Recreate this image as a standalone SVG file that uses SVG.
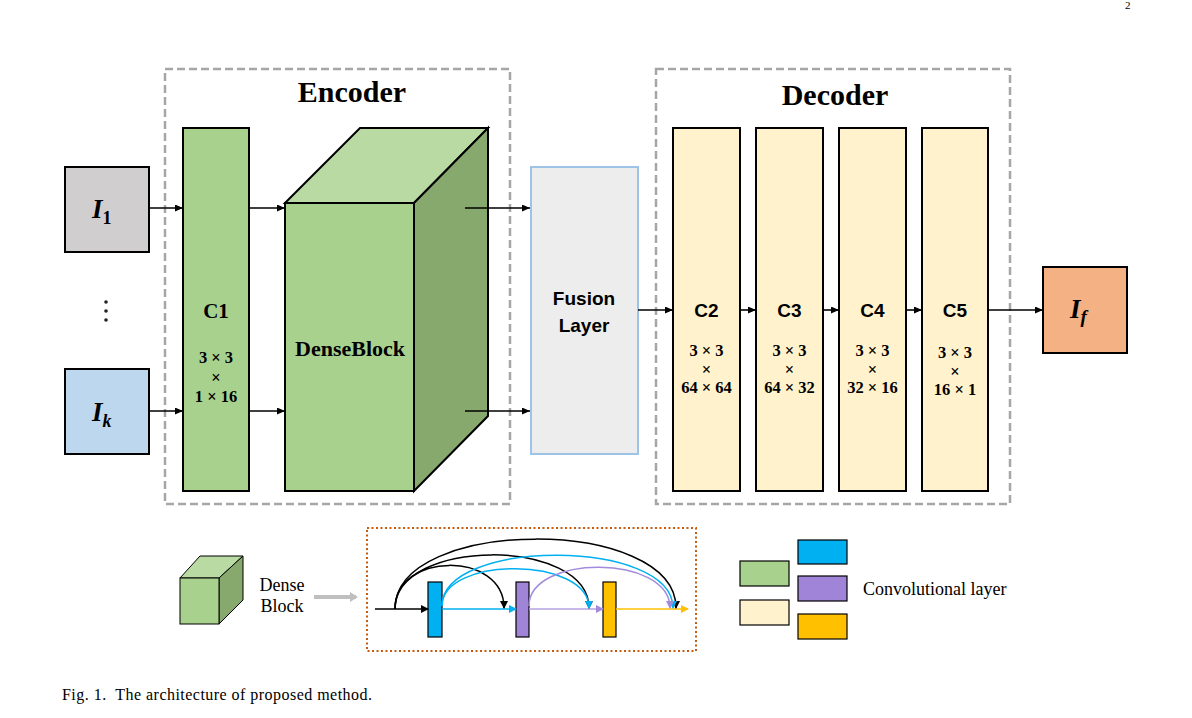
<svg xmlns="http://www.w3.org/2000/svg" width="1192" height="718" viewBox="0 0 1192 718">
  <style>
    .serif { font-family: "Liberation Serif", "Times New Roman", serif; }
    .sans { font-family: "Liberation Sans", Arial, sans-serif; }
    .head { font-family: "Liberation Serif", serif; font-weight: bold; font-size: 30px; text-anchor: middle; fill: #000; }
    .group-box { fill: none; stroke: #a6a6a6; stroke-width: 2.5; stroke-dasharray: 8 4; }
    .layer { stroke: #000; stroke-width: 2; }
    .green { fill: #a9d18e; }
    .cream { fill: #fff2cc; }
    .lbl { font-family: "Liberation Sans", Arial, sans-serif; font-weight: bold; font-size: 19px; text-anchor: middle; fill: #000; }
    .math { font-family: "Liberation Serif", serif; font-weight: bold; font-size: 16.5px; text-anchor: middle; fill: #000; }
    .var { font-family: "Liberation Serif", serif; font-weight: bold; font-style: italic; font-size: 27px; fill: #000; }
    .flow { stroke: #000; stroke-width: 1.6; fill: none; marker-end: url(#arrow); }
    .small { stroke-width: 1.5; fill: none; }
    .legend-text { font-family: "Liberation Serif", serif; font-size: 18px; fill: #000; }
  </style>
  <defs>
    <marker id="arrow" markerUnits="userSpaceOnUse" markerWidth="8" markerHeight="7" refX="8" refY="3.5" orient="auto">
      <path d="M0,0 L8,3.5 L0,7 z" fill="#000"/>
    </marker>
    <marker id="ah-black" markerUnits="userSpaceOnUse" markerWidth="8" markerHeight="8" refX="7" refY="4" orient="auto">
      <path d="M0,0 L8,4 L0,8 z" fill="#000"/>
    </marker>
    <marker id="ah-blue" markerUnits="userSpaceOnUse" markerWidth="8" markerHeight="8" refX="7" refY="4" orient="auto">
      <path d="M0,0 L8,4 L0,8 z" fill="#00b0f0"/>
    </marker>
    <marker id="ah-purple" markerUnits="userSpaceOnUse" markerWidth="8" markerHeight="8" refX="7" refY="4" orient="auto">
      <path d="M0,0 L8,4 L0,8 z" fill="#a28bdc"/>
    </marker>
    <marker id="ah-yellow" markerUnits="userSpaceOnUse" markerWidth="8" markerHeight="8" refX="7" refY="4" orient="auto">
      <path d="M0,0 L8,4 L0,8 z" fill="#ffc000"/>
    </marker>
    <marker id="ah-gray" markerUnits="userSpaceOnUse" markerWidth="10" markerHeight="12" refX="6" refY="6" orient="auto">
      <path d="M0,1 L8,6 L0,11 z" fill="#bfbfbf"/>
    </marker>
  </defs>

  <rect width="1192" height="718" fill="#fff"/>

  <!-- page number -->
  <text x="1125" y="9" class="serif" font-size="11" fill="#000">2</text>

  <!-- encoder / decoder frames -->
  <g id="encoder">
    <rect class="group-box" x="165" y="69" width="345" height="435"/>
    <text class="head" x="352" y="102">Encoder</text>
  </g>
  <g id="decoder">
    <rect class="group-box" x="656" y="69" width="354" height="435"/>
    <text class="head" x="835" y="105">Decoder</text>
  </g>

  <!-- inputs -->
  <g id="input-1">
    <rect class="layer" x="65" y="167" width="84" height="85" fill="#d0cece"/>
    <text class="var" x="92" y="218">I<tspan font-size="18" font-style="normal" dy="6">1</tspan></text>
  </g>
  <g id="input-dots" fill="#222">
    <circle cx="106" cy="302" r="1.8"/>
    <circle cx="106" cy="311" r="1.8"/>
    <circle cx="106" cy="320" r="1.8"/>
  </g>
  <g id="input-k">
    <rect class="layer" x="65" y="369" width="84" height="85" fill="#bdd7ee"/>
    <text class="var" x="92" y="421">I<tspan font-size="18" dy="6">k</tspan></text>
  </g>

  <!-- C1 -->
  <g id="c1">
    <rect class="layer green" x="183" y="128" width="66" height="363"/>
    <text x="216" y="318" class="serif" font-weight="bold" font-size="21" text-anchor="middle">C1</text>
    <text class="math" x="216" y="363">3 × 3</text>
    <text class="math" x="216" y="383">×</text>
    <text class="math" x="216" y="402">1 × 16</text>
  </g>

  <!-- DenseBlock cube -->
  <g id="denseblock">
    <polygon class="layer" points="285,203 360,128 488,128 414,203" fill="#b9dba3"/>
    <polygon class="layer" points="414,203 488,128 488,416 414,491" fill="#87a96e"/>
    <rect class="layer green" x="285" y="203" width="129" height="288"/>
    <text x="350" y="356" class="serif" font-weight="bold" font-size="22" text-anchor="middle">DenseBlock</text>
  </g>

  <!-- Fusion layer -->
  <g id="fusion">
    <rect x="531" y="167" width="107" height="287" fill="#ededed" stroke="#9dc3e6" stroke-width="2"/>
    <text class="lbl" x="584" y="305">Fusion</text>
    <text class="lbl" x="584" y="332">Layer</text>
  </g>

  <!-- decoder layers -->
  <g id="c2">
    <rect class="layer cream" x="673" y="128" width="67" height="363"/>
    <text class="lbl" x="706.5" y="317">C2</text>
    <text class="math" x="706.5" y="356">3 × 3</text>
    <text class="math" x="706.5" y="375">×</text>
    <text class="math" x="706.5" y="393">64 × 64</text>
  </g>
  <g id="c3">
    <rect class="layer cream" x="756" y="128" width="67" height="363"/>
    <text class="lbl" x="789.5" y="317">C3</text>
    <text class="math" x="789.5" y="356">3 × 3</text>
    <text class="math" x="789.5" y="375">×</text>
    <text class="math" x="789.5" y="393">64 × 32</text>
  </g>
  <g id="c4">
    <rect class="layer cream" x="839" y="128" width="67" height="363"/>
    <text class="lbl" x="872.5" y="317">C4</text>
    <text class="math" x="872.5" y="356">3 × 3</text>
    <text class="math" x="872.5" y="375">×</text>
    <text class="math" x="872.5" y="393">32 × 16</text>
  </g>
  <g id="c5">
    <rect class="layer cream" x="922" y="128" width="66" height="363"/>
    <text class="lbl" x="955" y="317">C5</text>
    <text class="math" x="955" y="358">3 × 3</text>
    <text class="math" x="955" y="377">×</text>
    <text class="math" x="955" y="395">16 × 1</text>
  </g>

  <!-- output -->
  <g id="output">
    <rect class="layer" x="1043" y="267" width="84" height="86" fill="#f4b183"/>
    <text class="var" x="1070" y="318">I<tspan font-size="19" dy="5">f</tspan></text>
  </g>

  <!-- main connectors -->
  <g id="connectors">
    <line class="flow" x1="149" y1="208" x2="183" y2="208"/>
    <line class="flow" x1="149" y1="411" x2="183" y2="411"/>
    <line class="flow" x1="249" y1="208" x2="285" y2="208"/>
    <line class="flow" x1="249" y1="411" x2="285" y2="411"/>
    <line class="flow" x1="465" y1="208" x2="530" y2="208"/>
    <line class="flow" x1="465" y1="411" x2="530" y2="411"/>
    <line class="flow" x1="638" y1="310" x2="673" y2="310"/>
    <line class="flow" x1="740" y1="310" x2="756" y2="310"/>
    <line class="flow" x1="823" y1="310" x2="839" y2="310"/>
    <line class="flow" x1="906" y1="310" x2="922" y2="310"/>
    <line class="flow" x1="988" y1="310" x2="1043" y2="310"/>
  </g>

  <!-- legend: dense block icon -->
  <g id="legend-cube">
    <polygon points="180,578 200,556 243,556 219,578" fill="#b9dba3" stroke="#000" stroke-width="1"/>
    <polygon points="219,578 243,556 243,600 219,624" fill="#87a96e" stroke="#000" stroke-width="1"/>
    <rect x="180" y="578" width="39" height="46" fill="#a9d18e" stroke="#000" stroke-width="1"/>
    <text class="legend-text" x="282" y="591" text-anchor="middle">Dense</text>
    <text class="legend-text" x="282" y="612" text-anchor="middle">Block</text>
    <line x1="314" y1="597" x2="356" y2="597" stroke="#bfbfbf" stroke-width="4" marker-end="url(#ah-gray)"/>
  </g>

  <!-- legend: dense block internals -->
  <g id="dense-detail">
    <rect x="367" y="528" width="329" height="123" fill="none" stroke="#c55a11" stroke-width="2" stroke-dasharray="2 2.5"/>
    <rect x="428" y="582" width="14" height="55" fill="#00b0f0" stroke="#000" stroke-width="1.2"/>
    <rect x="516" y="582" width="13" height="55" fill="#a084d8" stroke="#000" stroke-width="1.2"/>
    <rect x="603" y="582" width="13" height="55" fill="#ffc000" stroke="#000" stroke-width="1.2"/>
  </g>
  <g id="dense-connectors">
    <line class="small" x1="375" y1="609" x2="428" y2="609" stroke="#000" marker-end="url(#ah-black)"/>
    <line class="small" x1="442" y1="609" x2="516" y2="609" stroke="#00b0f0" marker-end="url(#ah-blue)"/>
    <line class="small" x1="529" y1="609" x2="603" y2="609" stroke="#b4a2e2" marker-end="url(#ah-purple)"/>
    <line class="small" x1="616" y1="609" x2="688" y2="609" stroke="#ffc000" marker-end="url(#ah-yellow)"/>
    <path class="small" d="M395,609 C395,551 504,551 504,608" stroke="#000" marker-end="url(#ah-black)"/>
    <path class="small" d="M395,609 C395,537 589,537 589,608" stroke="#000" marker-end="url(#ah-black)"/>
    <path class="small" d="M395,609 C395,516 676,516 676,608" stroke="#000" marker-end="url(#ah-black)"/>
    <path class="small" d="M442,606 C442,556 589,556 589,608" stroke="#00b0f0" marker-end="url(#ah-blue)"/>
    <path class="small" d="M442,606 C442,538 673,538 673,608" stroke="#00b0f0" marker-end="url(#ah-blue)"/>
    <path class="small" d="M529,606 C529,554 670,554 670,608" stroke="#a28bdc" marker-end="url(#ah-purple)"/>
  </g>

  <!-- legend: layer colours -->
  <g id="legend-layers" stroke="#000" stroke-width="1.2">
    <rect x="740" y="561" width="49" height="25" fill="#a9d18e"/>
    <rect x="740" y="600" width="49" height="25" fill="#fff2cc"/>
    <rect x="798" y="540" width="49" height="24" fill="#00b0f0"/>
    <rect x="798" y="576" width="49" height="25" fill="#a084d8"/>
    <rect x="798" y="614" width="49" height="25" fill="#ffc000"/>
  </g>
  <text class="legend-text" x="863" y="595">Convolutional layer</text>

  <!-- caption -->
  <text class="serif" x="62" y="700" font-size="16" fill="#000" xml:space="preserve" textLength="310" lengthAdjust="spacing">Fig. 1.  The architecture of proposed method.</text>
</svg>
